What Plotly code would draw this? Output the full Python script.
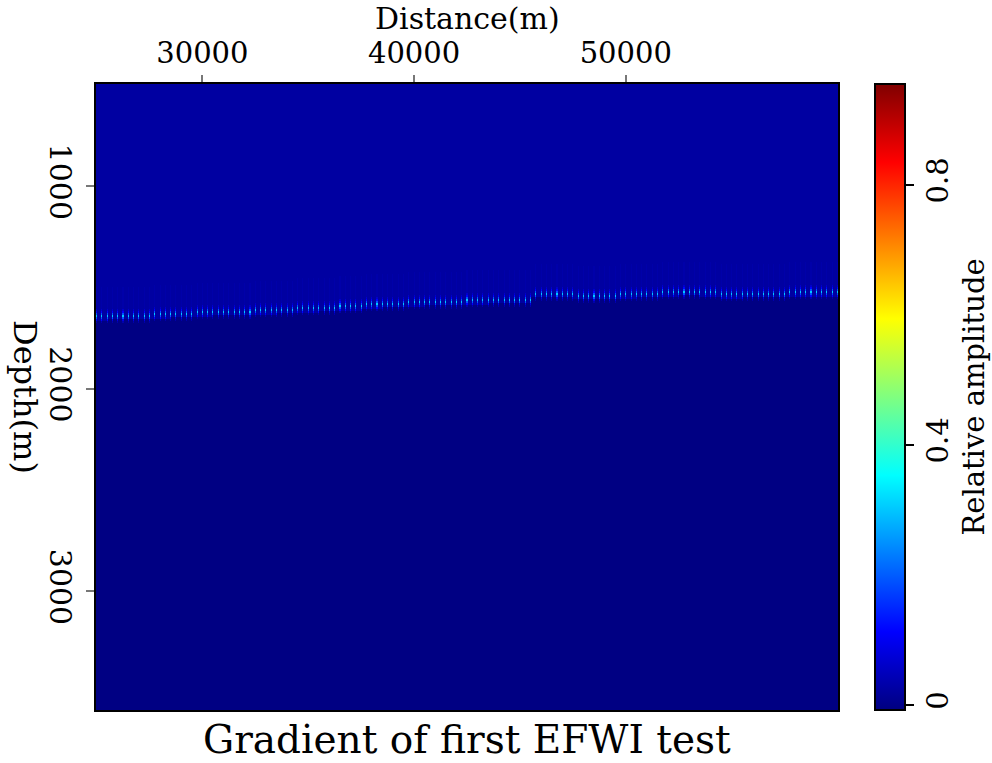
import numpy as np
import plotly.graph_objects as go

# ---- data ----
# horizontal positions of the interface knots (m) and the depth of the bright reflector (m)
knot_x = list(range(25000, 60001, 1000))
knot_depth = [1644, 1640, 1636, 1632, 1627, 1622, 1618, 1615, 1612, 1607,
              1603, 1597, 1591, 1585, 1576, 1573, 1570, 1566, 1563, 1560,
              1556, 1527, 1527, 1535, 1537, 1533, 1528, 1522, 1518, 1525,
              1532, 1530, 1527, 1525, 1523, 1522]
amp_above = 0.023          # relative amplitude above the reflector
amp_below = -0.005         # relative amplitude below the reflector
dot_profile = [0.04, 0.09, 0.17, 0.28, 0.17, 0.09, 0.04]   # vertical profile of each reflector spot
dot_spacing = 250          # m, spacing of the bright spots
x_first, x_last, dx = 25000, 60000, 50
z_first, z_last, dz = 500, 3580, 10
cb_min, cb_max = -0.008, 0.955
cb_ticks = [0, 0.4, 0.8]
cb_ticktext = ["0", "0.4", "0.8"]
x_ticks = [30000, 40000, 50000]
y_ticks = [1000, 2000, 3000]

# ---- build the image ----
xs = np.arange(x_first, x_last + 1, dx)
zs = np.arange(z_first, z_last + 1, dz)
kx = np.array(knot_x)
kd = np.array(knot_depth)
idx = np.clip(np.round((xs - kx[0]) / 1000).astype(int), 0, len(kd) - 1)
iface = kd[idx]
Z = np.where(zs[:, None] < iface[None, :] + 20, amp_above, amp_below).astype(float)
half = len(dot_profile) // 2
for j, x in enumerate(xs):
    if (x - x_first) % dot_spacing == 0:
        r0 = int(round((iface[j] - z_first) / dz))
        for k, a in enumerate(dot_profile):
            r = r0 + k - half
            if 0 <= r < len(zs):
                Z[r, j] += a
        # faint streak above each spot
        Z[max(r0 - 14, 0):max(r0 - half, 0), j] += 0.008

jet = [[0.0, "rgb(0,0,128)"], [0.125, "rgb(0,0,255)"], [0.375, "rgb(0,255,255)"],
       [0.625, "rgb(255,255,0)"], [0.875, "rgb(255,0,0)"], [1.0, "rgb(128,0,0)"]]

FONT = "DejaVu Serif"

fig = go.Figure(go.Heatmap(
    x=xs, y=zs, z=Z, zsmooth=False, colorscale=jet, zmin=cb_min, zmax=cb_max,
    colorbar=dict(
        x=(875 - 96) / 742, xanchor="left", xpad=0, thickness=30,
        len=1, lenmode="fraction", y=0.5, yanchor="middle", ypad=0,
        outlinewidth=2, outlinecolor="black",
        tickvals=cb_ticks, ticktext=cb_ticktext, ticks="outside", ticklen=8,
        tickwidth=2, tickcolor="black", tickangle=-90,
        tickfont=dict(family=FONT, size=29, color="black"),
        title=dict(text="Relative amplitude", side="right",
                   font=dict(family=FONT, size=29, color="black")),
    ),
    hoverinfo="skip",
))

fig.update_layout(
    width=992, height=763,
    margin=dict(l=96, r=154, t=84, b=53, autoexpand=False),
    paper_bgcolor="white", plot_bgcolor="white",
    xaxis=dict(side="top", range=[x_first - dx / 2, x_last + dx / 2],
               tickvals=x_ticks, ticktext=[str(v) for v in x_ticks],
               ticks="outside", ticklen=7, tickwidth=2, tickcolor="#777",
               showline=True, mirror=True, linecolor="black", linewidth=2,
               showgrid=False, zeroline=False, automargin=False,
               tickfont=dict(family=FONT, size=29, color="black")),
    yaxis=dict(range=[z_last + dz / 2, z_first - dz / 2],
               tickvals=y_ticks, ticktext=[str(v) for v in y_ticks],
               ticks="outside", ticklen=8, tickwidth=2, tickcolor="#777",
               tickangle=90, automargin=False,
               showline=True, mirror=True, linecolor="black", linewidth=2,
               showgrid=False, zeroline=False,
               tickfont=dict(family=FONT, size=30, color="black")),
    annotations=[
        dict(text="Distance(m)", xref="paper", yref="paper", x=0.5, y=1 + (84 - 18) / 626,
             xanchor="center", yanchor="middle", showarrow=False,
             font=dict(family=FONT, size=30, color="black")),
        dict(text="Depth(m)", xref="paper", yref="paper", x=(25 - 96) / 742, y=0.5,
             xanchor="center", yanchor="middle", textangle=90, showarrow=False,
             font=dict(family=FONT, size=32, color="black")),
        dict(text="Gradient of first EFWI test", xref="paper", yref="paper",
             x=0.5, y=-(739 - 710) / 626, xanchor="center", yanchor="middle",
             showarrow=False, font=dict(family=FONT, size=39, color="black")),
    ],
)

fig.write_html("out.html", config={"displayModeBar": False},
               post_script="document.body.style.margin='0px';document.body.style.padding='0px';")
